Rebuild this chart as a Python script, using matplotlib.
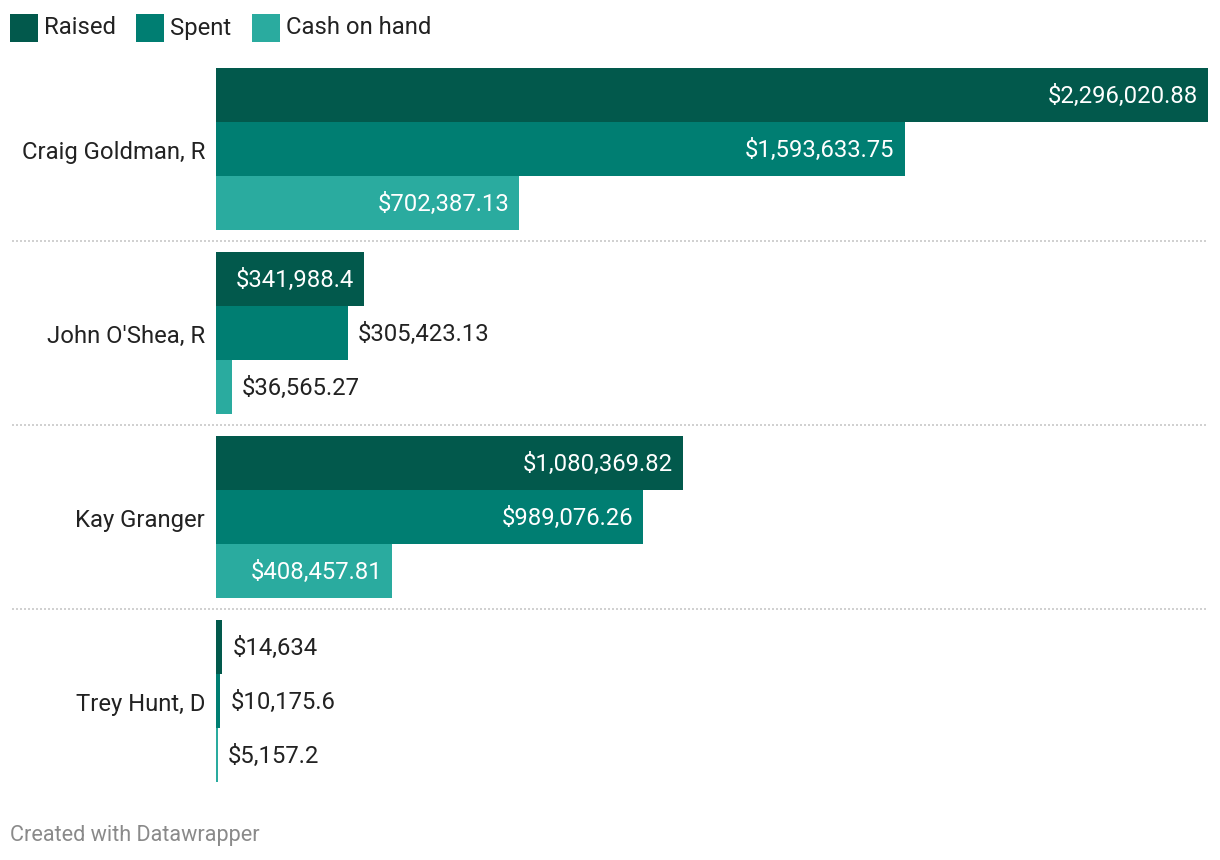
import matplotlib.pyplot as plt
import matplotlib.transforms as mtransforms
from matplotlib.patches import Rectangle

candidates = ["Craig Goldman, R", "John O'Shea, R", "Kay Granger", "Trey Hunt, D"]
series = ["Raised", "Spent", "Cash on hand"]
raised = [2296020.88, 341988.4, 1080369.82, 14634]
spent = [1593633.75, 305423.13, 989076.26, 10175.6]
cash = [702387.13, 36565.27, 408457.81, 5157.2]
labels = [
    ["$2,296,020.88", "$1,593,633.75", "$702,387.13"],
    ["$341,988.4", "$305,423.13", "$36,565.27"],
    ["$1,080,369.82", "$989,076.26", "$408,457.81"],
    ["$14,634", "$10,175.6", "$5,157.2"],
]
colors = ["#02594c", "#007e72", "#2aab9f"]

plt.rcParams['font.family'] = ['Roboto', 'DejaVu Sans']
FS = 17.2
DY = -1.5  # nudge text down a little

W, H = 1220, 860
fig = plt.figure(figsize=(W / 100, H / 100), dpi=100)
ax_left, ax_right = 216, 1208
ax_top, ax_bot = 68, 782
ax = fig.add_axes([ax_left / W, 1 - ax_bot / H, (ax_right - ax_left) / W, (ax_bot - ax_top) / H])
ax.set_xlim(0, max(raised))
ax.set_ylim(ax_bot - ax_top, 0)
ax.axis("off")

bar_h = 54
group_step = 184
values = [raised, spent, cash]
px_per_unit = (ax_right - ax_left) / max(raised)

fig.canvas.draw()
renderer = fig.canvas.get_renderer()

for g, name in enumerate(candidates):
    for k in range(3):
        y = g * group_step + k * bar_h + bar_h / 2
        v = values[k][g]
        ax.barh(y, v, height=bar_h, color=colors[k], linewidth=0)
        t = ax.text(0, y, labels[g][k], fontsize=FS)
        tw = t.get_window_extent(renderer).width
        bw = v * px_per_unit
        t.remove()
        if bw > tw + 18:
            off = mtransforms.offset_copy(ax.transData, fig=fig, x=-10, y=DY, units="dots")
            ax.text(v, y, labels[g][k], fontsize=FS, color="white", ha="right", va="center", transform=off)
        else:
            off = mtransforms.offset_copy(ax.transData, fig=fig, x=10, y=DY, units="dots")
            ax.text(v, y, labels[g][k], fontsize=FS, color="#222222", ha="left", va="center", transform=off)
    cy = g * group_step + 1.5 * bar_h
    off = mtransforms.offset_copy(ax.get_yaxis_transform(), fig=fig, x=-11, y=-3, units="dots")
    ax.text(0, cy, name, fontsize=FS, color="#222222", ha="right", va="center", transform=off)
    if g < len(candidates) - 1:
        sy = g * group_step + 3 * bar_h + 11
        trans = ax.get_yaxis_transform()
        ax.plot([(12 - ax_left) / (ax_right - ax_left), 1], [sy, sy], transform=trans,
                color="#c8c8c8", linewidth=1.2, linestyle=(0, (1.2, 1.2)), clip_on=False)

# legend
lx = [10, 136, 252]
for x, s, c in zip(lx, series, colors):
    fig.add_artist(Rectangle((x / W, 1 - 42 / H), 28 / W, 28 / H, transform=fig.transFigure,
                             color=c, linewidth=0))
    fig.text((x + 34) / W, 1 - 28 / H, s, fontsize=FS, color="#222222", va="center")

fig.text(10 / W, 1 - 836 / H, "Created with Datawrapper", fontsize=15.6, color="#8a8a8a", va="center")

fig.savefig("out.png", dpi=100, facecolor="white")
